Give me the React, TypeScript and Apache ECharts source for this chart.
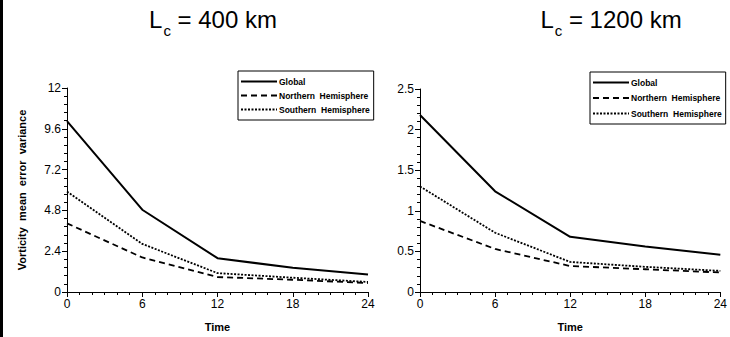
import React, { useEffect, useRef } from "react";
import * as echarts from "echarts";

const times = [0, 6, 12, 18, 24];
const seriesNames = ["Global", "Northern  Hemisphere", "Southern  Hemisphere"];
// Lc = 400 km
const global400 = [10.05, 4.84, 1.99, 1.42, 1.03];
const north400 = [4.04, 2.03, 0.88, 0.72, 0.53];
const south400 = [5.91, 2.83, 1.11, 0.84, 0.59];
// Lc = 1200 km
const global1200 = [2.18, 1.24, 0.68, 0.56, 0.46];
const north1200 = [0.875, 0.53, 0.32, 0.28, 0.24];
const south1200 = [1.3, 0.73, 0.37, 0.31, 0.26];

const titles = ["400 km", "1200 km"];
const yAxisTitle = "Vorticity  mean  error  variance";
const xAxisTitle = "Time";

const FONT = "Arial, 'Liberation Sans', Helvetica, sans-serif";

export default function App() {
  const ref = useRef<HTMLDivElement>(null);
  useEffect(() => {
    document.body.style.margin = "0";
    const chart = echarts.init(ref.current!, null, { renderer: "svg" });
    const lineStyles = [
      { type: "solid" as const, width: 2 },
      { type: [6, 4] as any, width: 1.8 },
      { type: [2, 1.5] as any, width: 1.8 },
    ];
    const pair = (x: number[]) => times.map((t, i) => [t, x[i]]);
    const data = [
      [global400, north400, south400],
      [global1200, north1200, south1200],
    ];
    const series: any[] = [];
    data.forEach((grp, gi) => {
      grp.forEach((vals, si) => {
        series.push({
          type: "line",
          name: seriesNames[si],
          xAxisIndex: gi,
          yAxisIndex: gi,
          data: pair(vals),
          symbol: "none",
          lineStyle: { color: "#000", ...lineStyles[si] },
          itemStyle: { color: "#000" },
        });
      });
    });
    const axisCommon = {
      axisLine: { show: true, onZero: false, lineStyle: { color: "#000", width: 1 } },
      axisTick: { show: true, length: 5, lineStyle: { color: "#000" } },
      minorTick: { show: true, length: 3, lineStyle: { color: "#000" } },
      splitLine: { show: false },
      minorSplitLine: { show: false },
      axisLabel: { color: "#000", fontSize: 12, fontFamily: FONT, margin: 6 },
    };
    const xAxis = [0, 1].map((i) => ({
      ...axisCommon,
      type: "value",
      gridIndex: i,
      min: 0,
      max: 24,
      interval: 6,
      minorTick: { ...axisCommon.minorTick, splitNumber: 6 },
      name: xAxisTitle,
      nameLocation: "middle",
      nameGap: 29,
      nameTextStyle: { color: "#000", fontSize: 11, fontWeight: "bold", fontFamily: FONT },
    }));
    const yAxis = [
      {
        ...axisCommon,
        type: "value",
        gridIndex: 0,
        min: 0,
        max: 12,
        interval: 2.4,
        minorTick: { ...axisCommon.minorTick, splitNumber: 5 },
        axisLabel: { ...axisCommon.axisLabel, formatter: (v: number) => String(+v.toFixed(1)) },
        name: yAxisTitle,
        nameLocation: "middle",
        nameRotate: 90,
        nameGap: 40,
        nameTextStyle: { color: "#000", fontSize: 11, fontWeight: "bold", fontFamily: FONT },
      },
      {
        ...axisCommon,
        type: "value",
        gridIndex: 1,
        min: 0,
        max: 2.5,
        interval: 0.5,
        minorTick: { ...axisCommon.minorTick, splitNumber: 5 },
        axisLabel: { ...axisCommon.axisLabel, formatter: (v: number) => String(+v.toFixed(1)) },
      },
    ];
    const legendCommon = {
      orient: "vertical",
      data: seriesNames,
      itemWidth: 36,
      itemHeight: 10,
      itemGap: 5,
      borderColor: "#000",
      borderWidth: 1,
      borderRadius: 0,
      padding: [6, 4, 6, 2],
      itemStyle: { color: "rgba(0,0,0,0)", borderColor: "rgba(0,0,0,0)", borderWidth: 0 },
      textStyle: { color: "#000", fontSize: 8.5, fontWeight: "bold", fontFamily: FONT, padding: [0, 0, 0, -3] },
      selectedMode: false,
    };
    const titleStyle = (t: string, center: number) => ({
      text: `{a|L}{b|c}{a| = ${t}}`,
      left: center,
      top: -2,
      textAlign: "center",
      textStyle: {
        fontWeight: "normal",
        rich: {
          a: { fontSize: 24, fontFamily: FONT, fontWeight: "normal", color: "#000", verticalAlign: "bottom", lineHeight: 28 },
          b: { fontSize: 15, fontFamily: FONT, fontWeight: "normal", color: "#000", verticalAlign: "bottom", lineHeight: 20, padding: [0, 0, -7, 1] },
        },
      },
    });
    chart.setOption({
      animation: false,
      backgroundColor: "#fff",
      title: [titleStyle(titles[0], 208), titleStyle(titles[1], 606)],
      grid: [
        { left: 67, top: 88, width: 301, height: 205 },
        { left: 420, top: 89, width: 302, height: 207 },
      ],
      legend: [
        { ...legendCommon, left: 238, top: 71 },
        { ...legendCommon, left: 590, top: 72, itemGap: 6.5 },
      ],
      xAxis,
      yAxis,
      series,
      graphic: [
        { type: "rect", left: 0, top: 0, shape: { x: 0, y: 0, width: 3, height: 337 }, style: { fill: "#000" } },
      ],
    });
    return () => chart.dispose();
  }, []);
  return <div ref={ref} style={{ width: 730, height: 337 }} />;
}
